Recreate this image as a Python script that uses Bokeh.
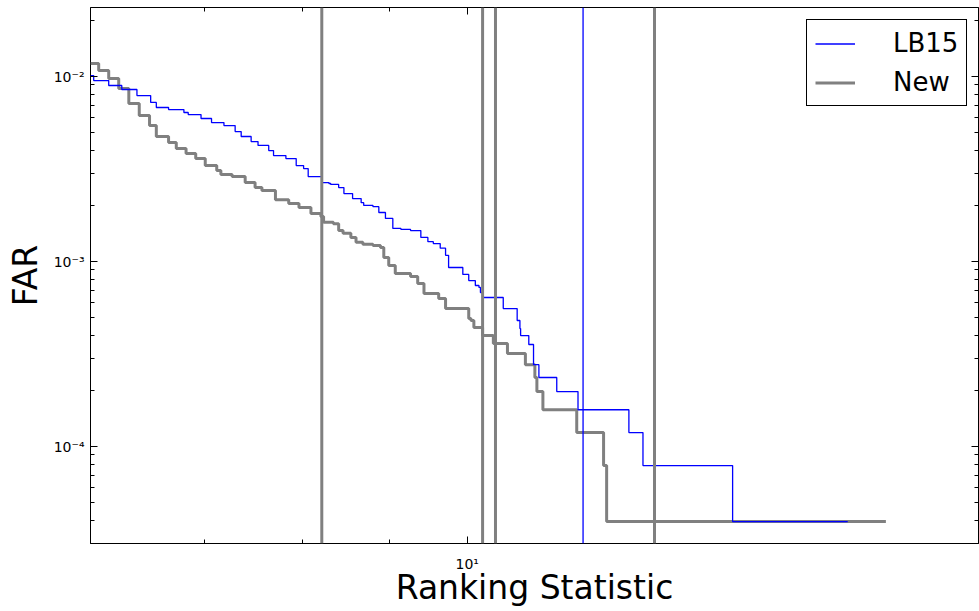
from bokeh.plotting import figure
from bokeh.models import (Span, FixedTicker, LogAxis, Legend, LegendItem,
                          Range1d, CustomJSTickFormatter)
from bokeh.embed import file_html
from bokeh.resources import INLINE

# ---------------- data ----------------
lb15_stat = [6.00, 6.026, 6.150, 6.26, 6.39, 6.51, 6.56, 6.67, 6.81, 6.85,
             6.97, 7.07, 7.19, 7.30, 7.36, 7.46, 7.53, 7.64, 7.69, 7.82,
             7.93, 8.01, 8.06, 8.21, 8.29, 8.31, 8.40, 8.46, 8.56, 8.66,
             8.69, 8.80, 8.87, 8.95, 9.04, 9.14, 9.26, 9.39, 9.48, 9.55,
             9.64, 9.71, 9.75, 9.94, 10.02, 10.11, 10.16, 10.18, 10.22,
             10.50, 10.70, 10.74, 10.75, 10.87, 10.94, 11.02, 11.29, 11.62,
             12.45, 12.69, 14.33, 16.75]
lb15_far = [0.01012, 0.00951, 0.00894, 0.00851, 0.00789, 0.00724, 0.00680,
            0.00663, 0.00639, 0.00623, 0.00593, 0.00564, 0.00543, 0.00504,
            0.00474, 0.00445, 0.00424, 0.00398, 0.00374, 0.00360, 0.00330,
            0.00318, 0.00288, 0.00267, 0.00264, 0.00261, 0.00251, 0.00233,
            0.00219, 0.00208, 0.00201, 0.00198, 0.00184, 0.00171, 0.00151,
            0.00149, 0.00147, 0.00135, 0.00128, 0.00125, 0.00118, 0.00108,
            0.000928, 0.000851, 0.000789, 0.000742, 0.000724, 0.000680,
            0.000639, 0.000557, 0.000480, 0.000434, 0.000398, 0.000356,
            0.000277, 0.000236, 0.000198, 0.000158, 0.000119, 0.0000789,
            0.0000393, 0.0000393]

new_stat = [6.00, 6.067, 6.150, 6.234, 6.32, 6.41, 6.50, 6.56, 6.67, 6.74,
            6.83, 6.92, 7.01, 7.12, 7.16, 7.27, 7.40, 7.50, 7.57, 7.71,
            7.85, 7.96, 8.09, 8.20, 8.23, 8.34, 8.40, 8.45, 8.54, 8.60,
            8.68, 8.80, 8.89, 8.93, 8.99, 9.07, 9.26, 9.35, 9.43, 9.62,
            9.71, 10.02, 10.05, 10.09, 10.21, 10.36, 10.56, 10.82, 10.96,
            10.99, 11.08, 11.60, 12.03, 12.08, 17.64]
new_far = [0.01176, 0.01078, 0.00975, 0.00861, 0.00715, 0.00615, 0.00543,
           0.00474, 0.00440, 0.00408, 0.00384, 0.00360, 0.00330, 0.00310,
           0.00295, 0.00288, 0.00267, 0.00251, 0.00242, 0.00216, 0.00206,
           0.00196, 0.00182, 0.00175, 0.00163, 0.00160, 0.00147, 0.00142,
           0.00135, 0.00127, 0.00124, 0.00122, 0.00119, 0.00105, 0.000951,
           0.000861, 0.000830, 0.000760, 0.000671, 0.000631, 0.000557,
           0.000492, 0.000480, 0.000440, 0.000398, 0.000360, 0.000318,
           0.000277, 0.000236, 0.000198, 0.000158, 0.000119, 0.0000789,
           0.0000393, 0.0000393]

lb15_vlines = [11.70]
new_vlines = [8.21, 10.21, 10.39, 12.89]

x_major_ticks = [10]
x_minor_ticks = [6, 7, 8, 9, 20]
y_major_ticks = [1e-4, 1e-3, 1e-2]
y_minor_ticks = [3e-5, 4e-5, 5e-5, 6e-5, 7e-5, 8e-5, 9e-5,
                 2e-4, 3e-4, 4e-4, 5e-4, 6e-4, 7e-4, 8e-4, 9e-4,
                 2e-3, 3e-3, 4e-3, 5e-3, 6e-3, 7e-3, 8e-3, 9e-3, 2e-2]

FONT = "DejaVu Sans"
BLUE = "#0000ff"
GRAY = "#808080"

p = figure(x_axis_type="log", y_axis_type="log",
           x_range=Range1d(6.0, 20.0), y_range=Range1d(2.99e-5, 0.02361),
           frame_width=888, frame_height=536,
           min_border_left=90, min_border_right=1, min_border_top=7,
           min_border_bottom=60,
           output_backend="svg", toolbar_location=None,
           background_fill_color="white", border_fill_color="white")
p.xgrid.visible = False
p.ygrid.visible = False
p.outline_line_color = "black"
p.outline_line_width = 1
p.outline_line_alpha = 1

sup_fmt = CustomJSTickFormatter(code="""
const e = Math.round(Math.log10(tick));
const m = {'-':'\\u207b','0':'\\u2070','1':'\\u00b9','2':'\\u00b2','3':'\\u00b3',
           '4':'\\u2074','5':'\\u2075','6':'\\u2076','7':'\\u2077','8':'\\u2078','9':'\\u2079'};
return '10' + String(e).split('').map(c => m[c]).join('');
""")

xaxis = p.below[0]
yaxis = p.left[0]
top = LogAxis(major_label_text_font_size="1px", major_label_text_alpha=0,
              major_label_standoff=0)
right = LogAxis(major_label_text_font_size="1px", major_label_text_alpha=0,
                major_label_standoff=0)
p.add_layout(top, "above")
p.add_layout(right, "right")

for ax, maj, mnr in [(xaxis, x_major_ticks, x_minor_ticks),
                     (top, x_major_ticks, x_minor_ticks),
                     (yaxis, y_major_ticks, y_minor_ticks),
                     (right, y_major_ticks, y_minor_ticks)]:
    ax.ticker = FixedTicker(ticks=maj, minor_ticks=mnr)
    ax.axis_line_color = None
    ax.major_tick_in = 7
    ax.major_tick_out = 0
    ax.minor_tick_in = 4
    ax.minor_tick_out = 0
    ax.major_tick_line_color = "black"
    ax.minor_tick_line_color = "black"

for ax in (xaxis, yaxis):
    ax.formatter = sup_fmt
    ax.major_label_text_font = FONT
    ax.major_label_text_font_size = "14px"
    ax.major_label_text_color = "black"
    ax.axis_label_text_font = FONT
    ax.axis_label_text_font_size = "33px"
    ax.axis_label_text_font_style = "normal"
    ax.axis_label_text_color = "black"

xaxis.axis_label = "Ranking Statistic"
xaxis.major_label_standoff = 12
xaxis.axis_label_standoff = -7
yaxis.axis_label = "FAR"
yaxis.major_label_standoff = 6
yaxis.axis_label_standoff = 6

r_new = p.step(new_stat, new_far, mode="after", line_color=GRAY, line_width=3)
r_lb = p.step(lb15_stat, lb15_far, mode="after", line_color=BLUE, line_width=1.3)

for xv in lb15_vlines:
    p.add_layout(Span(location=xv, dimension="height", line_color=BLUE,
                      line_width=1.3))
for xv in new_vlines:
    p.add_layout(Span(location=xv, dimension="height", line_color=GRAY,
                      line_width=3))

legend = Legend(items=[LegendItem(label="LB15", renderers=[r_lb]),
                       LegendItem(label="New", renderers=[r_new])],
                location=(716, 437),
                border_line_color="black", border_line_width=1,
                border_line_alpha=1, background_fill_color="white",
                background_fill_alpha=1,
                label_text_font=FONT, label_text_font_size="26px",
                label_text_color="black",
                glyph_width=40, glyph_height=29, label_height=29,
                spacing=9, padding=8, label_standoff=38, margin=0)
p.add_layout(legend)

open("out.html", "w").write(file_html(p, INLINE))
